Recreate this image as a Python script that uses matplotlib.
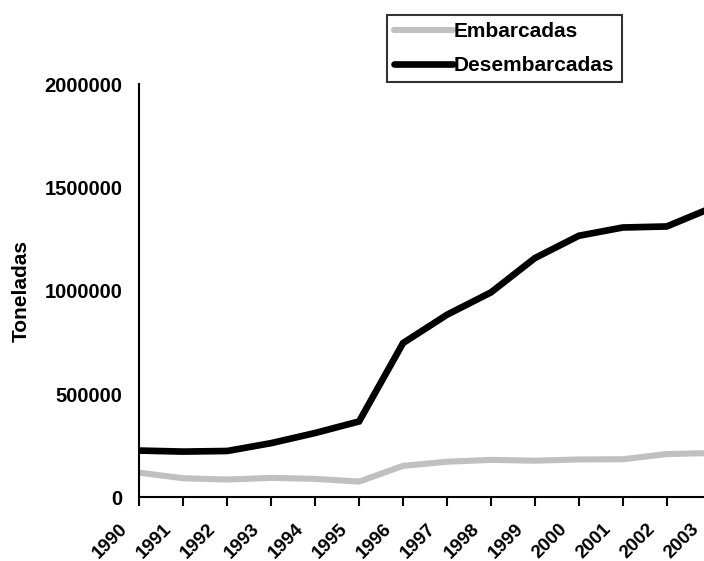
import matplotlib.pyplot as plt
from matplotlib.transforms import ScaledTranslation

# Valeurs (toneladas)
anos = ['1990', '1991', '1992', '1993', '1994', '1995', '1996',
        '1997', '1998', '1999', '2000', '2001', '2002', '2003']
embarcadas = [120000, 93000, 87000, 95000, 90000, 77000, 153000,
              173000, 182000, 178000, 184000, 185000, 210000, 215000]
desembarcadas = [227000, 222000, 225000, 263000, 312000, 368000, 747000,
                 884000, 992000, 1158000, 1266000, 1306000, 1311000, 1399000]
yticks = [0, 500000, 1000000, 1500000, 2000000]

plt.rcParams['font.family'] = ['Liberation Sans', 'DejaVu Sans']
plt.rcParams['font.weight'] = 'bold'

fig = plt.figure(figsize=(7.04, 5.61), dpi=100)
ax = fig.add_axes([0.198, 0.1132, 0.8114, 0.737])

x = list(range(len(anos)))
ax.plot(x, embarcadas, color='#c0c0c0', linewidth=4.4, label='Embarcadas',
        solid_capstyle='round', solid_joinstyle='miter')
ax.plot(x, desembarcadas, color='black', linewidth=4.8, label='Desembarcadas',
        solid_capstyle='round', solid_joinstyle='miter')

ax.set_xlim(0, len(anos) - 1)
ax.set_ylim(0, 2000000)
ax.set_xticks(x)
ax.set_xticklabels(anos, rotation=45, ha='right', va='center', rotation_mode='anchor',
                   fontsize=13.5, fontweight='bold')
ax.set_yticks(yticks)
ax.set_yticklabels([str(v) for v in yticks], fontsize=14.5, fontweight='bold')
ax.tick_params(axis='y', length=0, pad=12)
ax.tick_params(axis='x', length=6.5, width=1.5, direction='out', pad=14.5)

# decalage des annees vers la gauche (apres tick_params, sinon il est perdu)
decal = ScaledTranslation(-14 / 100, 0, fig.dpi_scale_trans)
for lab in ax.get_xticklabels():
    lab.set_transform(lab.get_transform() + decal)

ax.spines['top'].set_visible(False)
ax.spines['right'].set_visible(False)
ax.spines['left'].set_linewidth(1.5)
ax.spines['bottom'].set_linewidth(1.5)

ax.set_ylabel('Toneladas', fontsize=15, fontweight='bold')
ax.yaxis.set_label_coords(-0.19, 0.5)

leg = fig.legend(loc='upper left', bbox_to_anchor=(0.55, 0.973), fontsize=15,
                 frameon=True, fancybox=False, edgecolor='black',
                 handlelength=2.8, handletextpad=0.05, borderpad=0.35,
                 labelspacing=0.7, borderaxespad=0)
leg.get_frame().set_linewidth(1.5)
for t in leg.get_texts():
    t.set_fontweight('bold')
for h in leg.get_lines():
    h.set_solid_capstyle('round')

plt.savefig('out.png', dpi=100)
